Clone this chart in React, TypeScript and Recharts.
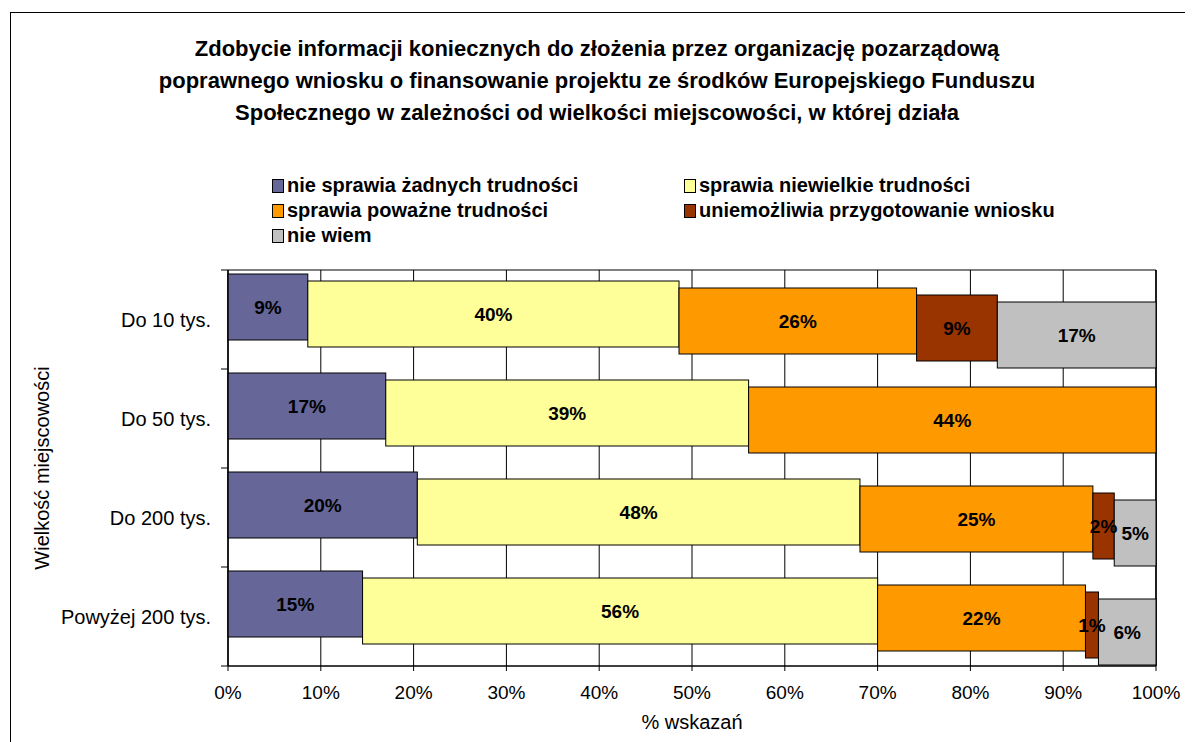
import React from "react";
import {
  BarChart,
  Bar,
  XAxis,
  YAxis,
  CartesianGrid,
  LabelList,
  Legend,
  ReferenceArea,
} from "recharts";

const FONT = "'Liberation Sans', Arial, sans-serif";

// categories (top to bottom)
const categories = ["Do 10 tys.", "Do 50 tys.", "Do 200 tys.", "Powyżej 200 tys."];

// % of answers per series
const brakTrudnosci = [8.6, 17.0, 20.4, 14.5];
const niewielkie = [40.0, 39.1, 47.7, 55.5];
const powazne = [25.6, 43.9, 25.1, 22.4];
const uniemozliwia = [8.7, 0, 2.3, 1.4];
const nieWiem = [17.1, 0, 4.5, 6.2];

const xTicks = [0, 10, 20, 30, 40, 50, 60, 70, 80, 90, 100];

const SERIES = [
  { key: "brak", name: "nie sprawia żadnych trudności", color: "#666699" },
  { key: "niewielkie", name: "sprawia niewielkie trudności", color: "#FFFF99" },
  { key: "powazne", name: "sprawia poważne trudności", color: "#FF9900" },
  { key: "uniemozliwia", name: "uniemożliwia przygotowanie wniosku", color: "#993300" },
  { key: "nieWiem", name: "nie wiem", color: "#C0C0C0" },
];

const chartData = categories.map((name, i) => ({
  name,
  brak: brakTrudnosci[i],
  niewielkie: niewielkie[i],
  powazne: powazne[i],
  uniemozliwia: uniemozliwia[i],
  nieWiem: nieWiem[i],
}));

// each series sits a few px lower than the previous one (like the original)
const STEP = 7;
const shiftOf = (i: number) => (i - 2) * STEP + 1;

const makeShape = (shift: number) => (props: any) => {
  const { x, y, width, height, fill } = props;
  if (!width || width <= 0) return <g />;
  return (
    <rect
      x={x}
      y={y + shift}
      width={width}
      height={height}
      fill={fill}
      stroke="#000"
      strokeWidth={1}
    />
  );
};

const makeLabel = (shift: number) => (props: any) => {
  const { x, y, width, height, value } = props;
  let v = Array.isArray(value) ? value[1] - value[0] : Number(value);
  if (!v || v <= 0) return null;
  return (
    <text
      x={x + width / 2}
      y={y + height / 2 + shift}
      dy="0.36em"
      textAnchor="middle"
      fontFamily={FONT}
      fontWeight="bold"
      fontSize={19}
      fill="#000"
    >
      {Math.round(v)}%
    </text>
  );
};

const BAND_HALF = 49.5;

const YTick = (props: any) => {
  const { x, y, payload, index } = props;
  return (
    <g>
      <line x1={x - 7} x2={x} y1={y - BAND_HALF} y2={y - BAND_HALF} stroke="#000" />
      {index === categories.length - 1 && (
        <line x1={x - 7} x2={x} y1={y + BAND_HALF} y2={y + BAND_HALF} stroke="#000" />
      )}
      <text
        x={x - 17}
        y={y}
        dy="0.36em"
        textAnchor="end"
        fontFamily={FONT}
        fontSize={20}
        fill="#000"
      >
        {payload.value}
      </text>
    </g>
  );
};

const YLabel = (props: any) => {
  const vb = props.viewBox || { x: 0, y: 0, width: 0, height: 0 };
  const cx = vb.x + 31;
  const cy = vb.y + vb.height / 2;
  return (
    <text
      x={cx}
      y={cy}
      transform={`rotate(-90 ${cx} ${cy})`}
      textAnchor="middle"
      dy="0.36em"
      fontFamily={FONT}
      fontSize={20}
      fill="#000"
    >
      Wielkość miejscowości
    </text>
  );
};

const LegendBox = () => (
  <div
    style={{
      display: "grid",
      gridTemplateColumns: "412px 360px",
      fontFamily: FONT,
      fontWeight: "bold",
      fontSize: 20,
      lineHeight: "25px",
      color: "#000",
    }}
  >
    {SERIES.map((s) => (
      <div key={s.key} style={{ display: "flex", alignItems: "center", whiteSpace: "nowrap" }}>
        <span
          style={{
            display: "inline-block",
            flexShrink: 0,
            width: 10,
            height: 12,
            background: s.color,
            border: "1px solid #000",
            marginRight: 3,
          }}
        />
        {s.name}
      </div>
    ))}
  </div>
);

export default function App() {
  return (
    <div
      style={{
        position: "relative",
        left: 2,
        top: 4,
        width: 1200,
        height: 750,
        border: "1px solid #000",
        background: "#fff",
      }}
    >
      <div
        style={{
          position: "absolute",
          left: 0,
          top: 20,
          width: 1172,
          textAlign: "center",
          fontFamily: FONT,
          fontWeight: "bold",
          fontSize: 22,
          lineHeight: "32px",
          color: "#000",
        }}
      >
        Zdobycie informacji koniecznych do złożenia przez organizację pozarządową
        <br />
        poprawnego wniosku o finansowanie projektu ze środków Europejskiego Funduszu
        <br />
        Społecznego w zależności od wielkości miejscowości, w której działa
      </div>
      <BarChart
        width={1180}
        height={730}
        data={chartData}
        layout="vertical"
        margin={{ top: 257, right: 35, bottom: 0, left: 0 }}
        barSize={66}
      >
        <CartesianGrid horizontal={false} stroke="#000" />
        <ReferenceArea x1={0} x2={100} fill="none" stroke="#000" />
        <XAxis
          type="number"
          domain={[0, 100]}
          ticks={xTicks}
          tickFormatter={(v) => `${v}%`}
          height={77}
          tickSize={5}
          tickMargin={15}
          axisLine={{ stroke: "#000" }}
          tickLine={{ stroke: "#000" }}
          tick={{ fill: "#000", fontSize: 19, fontFamily: FONT }}
          interval={0}
          label={{
            value: "% wskazań",
            position: "insideBottom",
            offset: 14,
            fill: "#000",
            fontSize: 20,
            fontFamily: FONT,
          }}
        />
        <YAxis
          type="category"
          dataKey="name"
          width={217}
          tickSize={0}
          tickMargin={0}
          tickLine={false}
          axisLine={{ stroke: "#000" }}
          tick={<YTick />}
          interval={0}
          label={{ value: "Wielkość miejscowości", content: <YLabel /> }}
        />
        <Legend
          layout="horizontal"
          verticalAlign="middle"
          align="center"
          content={<LegendBox />}
          wrapperStyle={{ top: 160, left: 261, width: 780 }}
        />
        {SERIES.map((s, i) => (
          <Bar
            key={s.key}
            dataKey={s.key}
            name={s.name}
            stackId="a"
            fill={s.color}
            isAnimationActive={false}
            shape={makeShape(shiftOf(i))}
          >
            <LabelList dataKey={s.key} content={makeLabel(shiftOf(i))} />
          </Bar>
        ))}
      </BarChart>
    </div>
  );
}
